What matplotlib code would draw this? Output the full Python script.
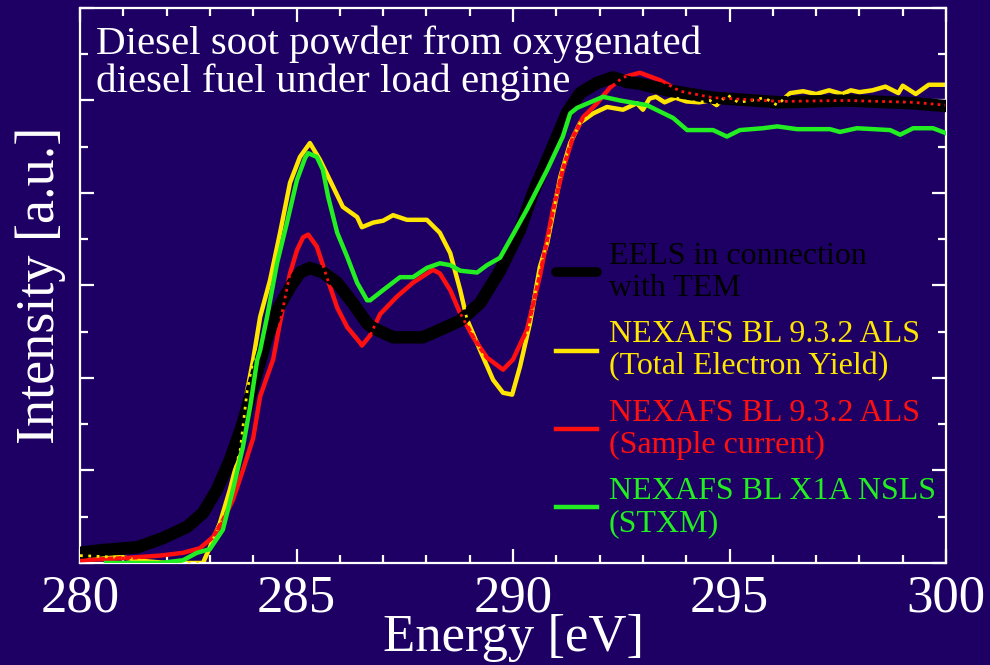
import matplotlib
matplotlib.use('Agg')
import matplotlib.pyplot as plt
from matplotlib.ticker import MultipleLocator

BG = '#1e0064'

# EELS in connection with TEM
eels_e = [280.0, 280.53, 281.32, 281.92, 282.47, 282.84, 283.16, 283.46, 283.76, 283.97,
          284.32, 284.55, 284.85, 285.08, 285.31, 285.61, 285.94, 286.30, 286.63, 286.77,
          287.23, 287.92, 288.31, 288.78, 289.24, 289.70, 290.16, 290.46, 290.79, 291.25,
          291.55, 291.94, 292.31, 292.63, 292.93, 293.56, 294.62, 296.17, 297.71, 299.24, 299.98]
eels_i = [0.11, 0.14, 0.17, 0.27, 0.39, 0.54, 0.79, 1.11, 1.51, 1.87,
          2.44, 2.73, 2.98, 3.14, 3.19, 3.14, 3.03, 2.81, 2.59, 2.54,
          2.44, 2.44, 2.52, 2.62, 2.81, 3.16, 3.60, 4.00, 4.36, 4.87,
          5.08, 5.19, 5.25, 5.20, 5.18, 5.11, 5.03, 4.98, 5.00, 4.97, 4.94]

# NEXAFS BL 9.3.2 ALS, total electron yield
tey_e = [280.0, 281.0, 281.5, 282.0, 282.84, 283.0, 283.23, 283.46, 283.70, 283.86,
         284.0, 284.16, 284.39, 284.62, 284.85, 285.08, 285.31, 285.54, 285.77, 286.07,
         286.40, 286.51, 286.77, 287.0, 287.23, 287.55, 288.01, 288.31, 288.55, 288.78,
         288.94, 289.24, 289.54, 289.77, 289.98, 290.16, 290.39, 290.62, 290.79, 291.09,
         291.32, 291.55, 291.85, 292.17, 292.54, 292.86, 293.0, 293.15, 293.3, 293.5,
         293.75, 294.0, 294.3, 294.55, 294.7, 294.95, 295.2, 295.5, 295.8, 296.1,
         296.4, 296.7, 297.0, 297.3, 297.6, 297.8, 298.0, 298.3, 298.6, 298.9,
         299.0, 299.3, 299.6, 299.95]
tey_i = [0.08, 0.06, 0.02, 0.0, 0.0, 0.17, 0.43, 0.79, 1.22, 1.86,
         2.20, 2.66, 3.06, 3.57, 4.11, 4.39, 4.54, 4.36, 4.14, 3.85,
         3.74, 3.63, 3.68, 3.70, 3.76, 3.71, 3.71, 3.57, 3.35, 2.95,
         2.63, 2.30, 1.98, 1.84, 1.82, 2.12, 2.59, 3.20, 3.46, 4.17,
         4.54, 4.76, 4.86, 4.93, 4.90, 4.97, 4.90, 5.02, 5.04, 4.98,
         5.03, 4.99, 4.98, 5.00, 4.95, 5.06, 4.98, 5.00, 5.03, 4.95,
         5.08, 5.10, 5.07, 5.11, 5.07, 5.11, 5.09, 5.11, 5.15, 5.08,
         5.16, 5.07, 5.17, 5.17]

# NEXAFS BL 9.3.2 ALS, sample current
sc_e = [280.0, 280.92, 281.85, 282.38, 282.77, 283.07, 283.30, 283.53, 283.76, 284.0,
        284.16, 284.46, 284.62, 284.85, 285.01, 285.15, 285.27, 285.47, 285.70, 285.94,
        286.17, 286.47, 286.51, 286.70, 286.93, 287.32, 287.69, 288.15, 288.31, 288.55,
        288.78, 289.08, 289.40, 289.77, 290.0, 290.32, 290.62, 290.92, 291.15, 291.39,
        291.62, 291.94, 292.24, 292.54, 292.93, 293.39, 293.86, 294.62, 296.17, 297.71,
        299.24, 299.98]
sc_i = [0.03, 0.05, 0.08, 0.11, 0.16, 0.28, 0.46, 0.68, 1.00, 1.35,
        1.80, 2.20, 2.60, 3.13, 3.38, 3.52, 3.55, 3.42, 3.09, 2.76,
        2.55, 2.38, 2.35, 2.46, 2.69, 2.88, 3.03, 3.17, 3.13, 2.95,
        2.70, 2.44, 2.22, 2.09, 2.20, 2.52, 3.10, 3.81, 4.25, 4.61,
        4.82, 4.97, 5.14, 5.25, 5.30, 5.22, 5.10, 5.03, 4.99, 5.00,
        4.98, 4.95]

# NEXAFS BL X1A NSLS, STXM
stxm_e = [280.6, 281.0, 281.85, 282.38, 282.70, 283.0, 283.30, 283.53, 283.76, 283.93,
          284.09, 284.16, 284.32, 284.55, 284.78, 285.01, 285.20, 285.27, 285.47, 285.61,
          285.73, 285.94, 286.17, 286.40, 286.63, 286.70, 287.0, 287.39, 287.69, 288.01,
          288.31, 288.55, 288.78, 289.17, 289.40, 289.70, 290.0, 290.32, 290.79, 291.15,
          291.32, 291.48, 291.78, 292.08, 292.47, 293.09, 293.70, 294.02, 294.62, 294.94,
          295.24, 295.77, 296.10, 296.56, 297.32, 297.55, 297.94, 298.71, 298.94, 299.24,
          299.70, 299.98]
stxm_i = [0.0, 0.0, 0.0, 0.03, 0.11, 0.15, 0.36, 0.79, 1.25, 1.69,
          2.19, 2.30, 2.66, 3.24, 3.68, 4.14, 4.38, 4.43, 4.39, 4.25,
          3.96, 3.57, 3.31, 3.03, 2.84, 2.84, 2.95, 3.09, 3.09, 3.19,
          3.24, 3.22, 3.16, 3.14, 3.22, 3.30, 3.55, 3.82, 4.25, 4.61,
          4.86, 4.92, 4.98, 5.04, 5.00, 4.95, 4.81, 4.68, 4.68, 4.61,
          4.68, 4.70, 4.72, 4.69, 4.69, 4.66, 4.70, 4.68, 4.63, 4.70,
          4.70, 4.65]

labels = ['EELS in connection\nwith TEM',
          'NEXAFS BL 9.3.2 ALS\n(Total Electron Yield)',
          'NEXAFS BL 9.3.2 ALS\n(Sample current)',
          'NEXAFS BL X1A NSLS\n(STXM)']

plt.rcParams['font.family'] = ['Liberation Serif', 'DejaVu Serif']

fig = plt.figure(figsize=(9.9, 6.65), dpi=100, facecolor=BG)
ax = fig.add_axes([0.0808, 0.1534, 0.8748, 0.8346], facecolor=BG)

l_tey, = ax.plot(tey_e, tey_i, color='#ffe600', lw=3.2, zorder=2, label=labels[1])
l_sc, = ax.plot(sc_e, sc_i, color='#ff1010', lw=3.2, zorder=3, label=labels[2])
l_eels, = ax.plot(eels_e, eels_i, color='black', lw=9, zorder=4, solid_capstyle='round', label=labels[0])
# dotted traces that show through the thick EELS curve
ax.plot(tey_e, tey_i, color='#ffe600', lw=2, ls=(0, (1, 2)), zorder=4.5)
ax.plot(sc_e, sc_i, color='#ff1010', lw=2, ls=(0, (1, 1.5)), zorder=4.5)
l_stxm, = ax.plot(stxm_e, stxm_i, color='#22ee22', lw=3.2, zorder=5, label=labels[3])

ax.set_xlim(280, 300)
ax.set_ylim(0, 6)
ax.xaxis.set_major_locator(MultipleLocator(5))
ax.xaxis.set_minor_locator(MultipleLocator(1))
ax.yaxis.set_major_locator(MultipleLocator(1))
ax.yaxis.set_minor_locator(MultipleLocator(0.5))
ax.tick_params(which='both', direction='in', top=True, right=True, colors='white', width=1.6)
ax.tick_params(which='major', length=10)
ax.tick_params(which='minor', length=5.5)
ax.tick_params(axis='x', labelsize=38, pad=8)
ax.tick_params(axis='y', labelleft=False)
for s in ax.spines.values():
    s.set_color('white')
    s.set_linewidth(1.6)

ax.set_xlabel('Energy [eV]', color='white', fontsize=38, labelpad=-6)
ax.set_ylabel('Intensity [a.u.]', color='white', fontsize=39, labelpad=7)

ax.text(0.019, 0.968, 'Diesel soot powder from oxygenated\ndiesel fuel under load engine',
        transform=ax.transAxes, color='white', fontsize=29.5, va='top', ha='left', linespacing=1.02)

leg = ax.legend(handles=[l_eels, l_tey, l_sc, l_stxm], labels=labels, loc='upper left',
                bbox_to_anchor=(0.531, 0.607), frameon=False, fontsize=23, labelcolor='linecolor',
                handlelength=1.3, handletextpad=0.35, labelspacing=0.55, borderpad=0)
for t in leg.get_texts():
    t.set_linespacing(1.12)
leg.get_lines()[0].set_linewidth(7)
leg.set_zorder(6)

fig.savefig('out.png', dpi=100, facecolor=BG)
